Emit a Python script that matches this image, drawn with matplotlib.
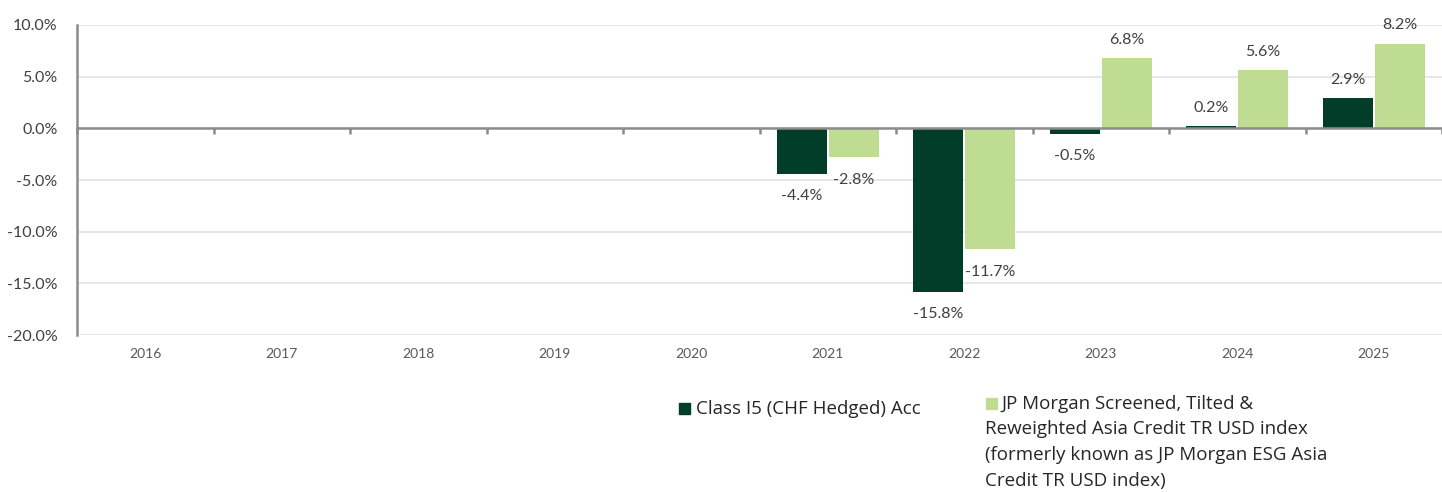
import numpy as np
import matplotlib
matplotlib.use("Agg")
import matplotlib.pyplot as plt
from matplotlib.patches import Rectangle
from matplotlib.transforms import blended_transform_factory

years = ["2016", "2017", "2018", "2019", "2020", "2021", "2022", "2023", "2024", "2025"]
fund = [np.nan, np.nan, np.nan, np.nan, np.nan, -4.4, -15.8, -0.5, 0.2, 2.9]
index = [np.nan, np.nan, np.nan, np.nan, np.nan, -2.8, -11.7, 6.8, 5.6, 8.2]
yticks = [10, 5, 0, -5, -10, -15, -20]
fund_name = "Class I5 (CHF Hedged) Acc"
index_name_first = "JP Morgan Screened, Tilted &"
index_name_rest = "Reweighted Asia Credit TR USD index\n(formerly known as JP Morgan ESG Asia\nCredit TR USD index)"

DARK = "#023D2A"
LIGHT = "#BEDD92"
AXC = "#8C8C8C"
TXT = "#404040"

plt.rcParams["font.family"] = ["Lato", "DejaVu Sans"]

fig = plt.figure(figsize=(14.42, 4.92), dpi=100)
ax = fig.add_axes([77 / 1442, 1 - 335 / 492, 1 - 77 / 1442, (335 - 25) / 492])

x = np.arange(len(years))
w = 0.365
off = 0.19
b1 = ax.bar(x - off, fund, w, color=DARK, zorder=3)
b2 = ax.bar(x + off, index, w, color=LIGHT, zorder=3)

for bars, vals in ((b1, fund), (b2, index)):
    for rect, v in zip(bars, vals):
        if np.isnan(v):
            continue
        cx = rect.get_x() + rect.get_width() / 2
        if v >= 0:
            ax.annotate(f"{v:.1f}%", (cx, v), xytext=(0, 8), textcoords="offset points",
                        ha="center", va="bottom", fontsize=11.5, color=TXT, clip_on=False)
        else:
            ax.annotate(f"{v:.1f}%", (cx, v), xytext=(0, -11), textcoords="offset points",
                        ha="center", va="top", fontsize=11.5, color=TXT, clip_on=False)

ax.set_xlim(-0.5, len(years) - 0.5)
ax.set_ylim(-20, 10)
ax.set_yticks(yticks)
ax.set_yticklabels([f"{t:.1f}%" for t in yticks], fontsize=11.5, color=TXT)
ax.yaxis.grid(True, color="#E3E3E3", linewidth=1.2, zorder=0)
ax.tick_params(axis="y", length=0, pad=14)

for s in ("top", "right"):
    ax.spines[s].set_visible(False)
ax.spines["left"].set_color(AXC)
ax.spines["left"].set_linewidth(1.8)
ax.spines["bottom"].set_position(("data", 0))
ax.spines["bottom"].set_color(AXC)
ax.spines["bottom"].set_linewidth(1.8)
ax.spines["bottom"].set_zorder(4)
ax.set_xticks(np.arange(len(years) + 1) - 0.5)
ax.set_xticklabels([])
ax.tick_params(axis="x", direction="out", length=4, width=1.8, color=AXC)

trans = blended_transform_factory(ax.transData, ax.transAxes)
for xi, yl in zip(x, years):
    ax.text(xi, -0.06, yl, transform=trans, ha="center", va="center", fontsize=10, color="#595959")

# legend
LEGFONT = ["Open Sans", "DejaVu Sans"]
fig.patches.append(Rectangle((679 / 1442, 1 - 414 / 492), 11 / 1442, 11 / 492,
                             transform=fig.transFigure, color=DARK))
fig.text(696 / 1442, 1 - 409 / 492, fund_name, fontsize=13.5, color="#262626",
         ha="left", va="center", family=LEGFONT)
fig.patches.append(Rectangle((986 / 1442, 1 - 409 / 492), 11 / 1442, 11 / 492,
                             transform=fig.transFigure, color=LIGHT))
fig.text(1002 / 1442, 1 - 404 / 492, index_name_first, fontsize=13.5, color="#262626",
         ha="left", va="center", family=LEGFONT)
fig.text(985 / 1442, 1 - 420 / 492, index_name_rest, fontsize=13.5, color="#262626",
         ha="left", va="top", linespacing=1.58, family=LEGFONT)

fig.savefig("out.png", dpi=100)
